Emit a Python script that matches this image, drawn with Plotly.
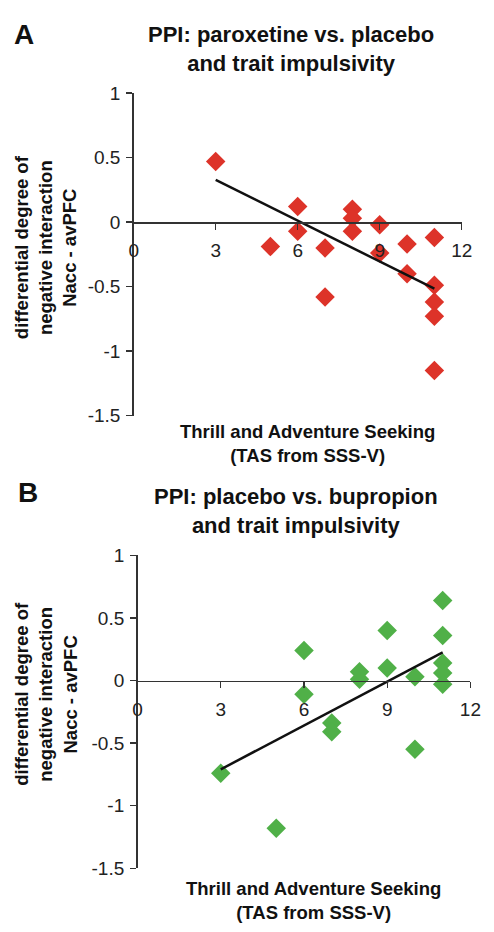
import numpy as np
import plotly.graph_objects as go

# ---- data ----
tas_a = [3, 6, 6, 5, 7, 7, 8, 8, 8, 9, 9, 10, 10, 11, 11, 11, 11, 11]
ppi_a = [0.47, 0.12, -0.07, -0.19, -0.20, -0.58, 0.10, 0.03, -0.07, -0.02, -0.24,
         -0.17, -0.40, -0.12, -0.49, -0.62, -0.73, -1.15]

tas_b = [3, 5, 6, 6, 7, 7, 8, 8, 9, 9, 10, 10, 11, 11, 11, 11, 11]
ppi_b = [-0.74, -1.18, 0.24, -0.11, -0.34, -0.41, 0.07, 0.01, 0.40, 0.10, 0.03,
         -0.55, 0.64, 0.36, 0.14, 0.06, -0.03]

x_ticks = [0, 3, 6, 9, 12]
y_ticks = [1, 0.5, 0, -0.5, -1, -1.5]
y_tick_text = ["1", "0.5", "0", "-0.5", "-1", "-1.5"]

title_a = "PPI: paroxetine vs. placebo<br>and trait impulsivity"
title_b = "PPI: placebo vs. bupropion<br>and trait impulsivity"
y_title = "differential degree of<br>negative interaction<br>Nacc - avPFC"
x_title = "Thrill and Adventure Seeking<br>(TAS from SSS-V)"

RED = "#dd3329"
GREEN = "#50b048"
FONT = "Liberation Sans, Arial, sans-serif"
W, H = 494, 932


def py(p):
    return 1 - p / H


def px(p):
    return p / W


fig = go.Figure()


def trend(xs, ys):
    k, b = np.polyfit(xs, ys, 1)
    x0, x1 = min(xs), max(xs)
    return [x0, x1], [k * x0 + b, k * x1 + b]


# panel A
fig.add_trace(go.Scatter(x=tas_a, y=ppi_a, mode="markers", xaxis="x", yaxis="y",
                         marker=dict(symbol="diamond", size=15, color=RED, line=dict(width=0)),
                         showlegend=False, cliponaxis=False))
tx, ty = trend(tas_a, ppi_a)
fig.add_trace(go.Scatter(x=tx, y=ty, mode="lines", xaxis="x", yaxis="y",
                         line=dict(color="#111111", width=2.5), showlegend=False))

# panel B
fig.add_trace(go.Scatter(x=tas_b, y=ppi_b, mode="markers", xaxis="x2", yaxis="y2",
                         marker=dict(symbol="diamond", size=15, color=GREEN, line=dict(width=0)),
                         showlegend=False, cliponaxis=False))
tx, ty = trend(tas_b, ppi_b)
fig.add_trace(go.Scatter(x=tx, y=ty, mode="lines", xaxis="x2", yaxis="y2",
                         line=dict(color="#111111", width=2.5), showlegend=False))

# geometry (pixels)
A_left, A_right, A_top, A_bot = 133, 472, 85, 415
B_left, B_right, B_top, B_bot = 137, 481, 558, 878
yr = [-1.5, 1]
frac0 = 1.5 / 2.5


def xaxis_cfg(left, right, top, bot):
    d_lo, d_hi = py(bot), py(top)
    return dict(domain=[px(left), px(right)], range=[0, 12], anchor="free",
                position=d_lo + frac0 * (d_hi - d_lo),
                tickmode="array", tickvals=x_ticks, ticktext=[str(v) for v in x_ticks],
                ticks="outside", ticklen=6, tickwidth=1.3, tickcolor="#333333",
                showline=True, linecolor="#333333", linewidth=1.5,
                showgrid=False, zeroline=False, ticklabelstandoff=5,
                tickfont=dict(family=FONT, size=19, color="#222222"))


def yaxis_cfg(top, bot, anchor):
    return dict(domain=[py(bot), py(top)], range=yr, anchor=anchor,
                tickmode="array", tickvals=y_ticks, ticktext=y_tick_text,
                ticks="outside", ticklen=6, tickwidth=1.3, tickcolor="#333333",
                showline=True, linecolor="#333333", linewidth=1.5,
                showgrid=False, zeroline=False, ticklabelstandoff=2,
                tickfont=dict(family=FONT, size=19, color="#222222"))


fig.update_layout(
    width=W, height=H, margin=dict(l=0, r=0, t=0, b=0),
    paper_bgcolor="white", plot_bgcolor="white",
    xaxis=xaxis_cfg(A_left, A_right, A_top, A_bot),
    yaxis=yaxis_cfg(A_top, A_bot, "x"),
    xaxis2=xaxis_cfg(B_left, B_right, B_top, B_bot),
    yaxis2=yaxis_cfg(B_top, B_bot, "x2"),
    hovermode=False,
)

ann = []


def text_ann(text, x, y, size, angle=0, xanchor="center"):
    ann.append(dict(text=text, x=px(x), y=py(y), xref="paper", yref="paper",
                    xanchor=xanchor, yanchor="middle", showarrow=False, textangle=angle,
                    font=dict(family=FONT, size=size, color="#111111")))


def bold(t):
    return "<b>" + t.replace("<br>", "</b><br><b>") + "</b>"


text_ann("<b>A</b>", 7, 25, 28, xanchor="left")
text_ann("<b>B</b>", 11, 494, 28, xanchor="left")
text_ann(bold(title_a), 296, 40, 22)
text_ann(bold(title_b), 301, 513, 22)
text_ann(bold(y_title), 42, 243, 18.5, angle=-90)
text_ann(bold(y_title), 42, 700, 18.5, angle=-90)
text_ann(bold(x_title), 313, 443, 18.5)
text_ann(bold(x_title), 319, 911, 18.5)

fig.update_layout(annotations=ann)
fig.write_html(
    "out.html",
    config={"displayModeBar": False, "staticPlot": True},
    post_script=("var d=document.getElementById('{plot_id}');"
                 "d.style.position='fixed';d.style.left='0px';d.style.top='0px';"
                 "document.documentElement.style.margin='0';"
                 "document.documentElement.style.overflow='hidden';"
                 "document.body.style.margin='0';document.body.style.padding='0';"
                 "document.body.style.overflow='hidden';"),
)
